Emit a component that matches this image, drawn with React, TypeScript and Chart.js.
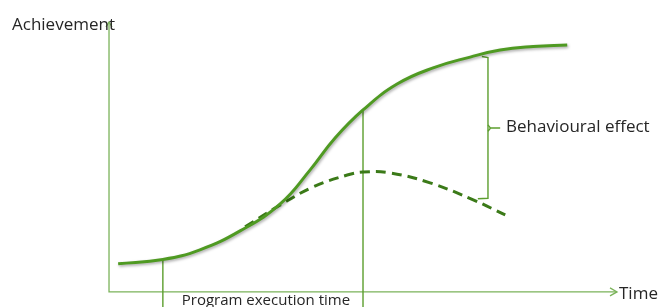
import React, { useEffect, useRef } from "react";
import { Chart, registerables } from "chart.js";

Chart.register(...registerables);

// Solid curve: achievement with behavioural effect
const solidX = [1.8, 10.6, 17.9, 25.8, 33.7, 39.6, 44.5, 50.0, 56.7, 63.8, 71.1, 77.0, 83.5, 90.2];
const solidY = [10.4, 12.0, 15.6, 22.6, 32.6, 45.2, 57.0, 67.4, 77.0, 83.0, 87.0, 89.6, 90.9, 91.5];
// Dashed curve: achievement without behavioural effect
const dashedX = [26.8, 33.7, 40.2, 46.9, 50.0, 55.3, 63.2, 71.7, 78.0];
const dashedY = [24.1, 32.2, 38.9, 43.3, 44.4, 44.1, 40.4, 34.1, 28.5];
// Program execution time markers (start, end)
const markerX = [10.6, 50.0];
const markerTopY = [12.0, 67.4];
// Behavioural effect bracket
const bracketX = 74.6;
const bracketTop = 86.8;
const bracketBottom = 34.4;
const bracketMid = 60.7;

const labels = {
  yTitle: "Achievement",
  xTitle: "Time",
  program: "Program execution time",
  effect: "Behavioural effect",
};

const AXIS = "#7bb35a";
const SOLID = "#4f9a22";
const DASH = "#3b7a18";
const THIN = "#5c9e2e";
const FONT = "'Open Sans', sans-serif";
const TEXT = "#262626";

export default function App() {
  const ref = useRef<HTMLCanvasElement | null>(null);
  useEffect(() => {
    if (!ref.current) return;
    const toPts = (xs: number[], ys: number[]) => xs.map((x, i) => ({ x, y: ys[i] }));
    const yBottom = -5.6;

    const decor = {
      id: "decor",
      beforeDatasetsDraw(chart: any) {
        const { ctx, scales } = chart;
        const xs = scales.x, ys = scales.y;
        const x0 = xs.getPixelForValue(0), y0 = ys.getPixelForValue(0);
        const x1 = xs.getPixelForValue(100), y1 = ys.getPixelForValue(100);
        ctx.save();
        ctx.strokeStyle = AXIS;
        ctx.lineWidth = 1.3;
        ctx.beginPath();
        ctx.moveTo(x0, y1);
        ctx.lineTo(x0, y0);
        ctx.lineTo(x1, y0);
        ctx.stroke();
        ctx.beginPath();
        ctx.moveTo(x1 - 7, y0 - 4);
        ctx.lineTo(x1, y0);
        ctx.lineTo(x1 - 7, y0 + 4);
        ctx.stroke();
        ctx.beginPath();
        ctx.moveTo(x0 - 3, y1 + 5);
        ctx.lineTo(x0, y1);
        ctx.lineTo(x0 + 3, y1 + 5);
        ctx.stroke();
        ctx.restore();
      },
      beforeDatasetDraw(chart: any, args: any) {
        if (args.index === 0) {
          const ctx = chart.ctx;
          ctx.save();
          ctx.shadowColor = "rgba(0,0,0,0.35)";
          ctx.shadowBlur = 3;
          ctx.shadowOffsetX = 1;
          ctx.shadowOffsetY = 1.5;
        }
      },
      afterDatasetDraw(chart: any, args: any) {
        if (args.index === 0) chart.ctx.restore();
      },
      afterDatasetsDraw(chart: any) {
        const { ctx, scales } = chart;
        const xs = scales.x, ys = scales.y;
        ctx.save();
        ctx.fillStyle = TEXT;
        ctx.font = `17px ${FONT}`;
        ctx.textBaseline = "middle";
        ctx.textAlign = "left";
        ctx.fillText(labels.yTitle, 12, ys.getPixelForValue(100) + 3);
        ctx.fillText(labels.xTitle, xs.getPixelForValue(100) + 2, ys.getPixelForValue(0) + 2);
        ctx.fillText(labels.effect, xs.getPixelForValue(bracketX) + 18, ys.getPixelForValue(bracketMid) - 1);
        ctx.font = `15px ${FONT}`;
        ctx.textAlign = "center";
        ctx.fillText(
          labels.program,
          (xs.getPixelForValue(markerX[0]) + xs.getPixelForValue(markerX[1])) / 2 + 3,
          ys.getPixelForValue(0) + 9
        );
        ctx.restore();
      },
    };

    const thin = (data: any[]) => ({
      data,
      showLine: true,
      borderColor: THIN,
      borderWidth: 1.4,
      pointRadius: 0,
      tension: 0,
      fill: false,
    });

    const chart = new Chart(ref.current, {
      type: "scatter",
      data: {
        datasets: [
          {
            data: toPts(solidX, solidY),
            showLine: true,
            borderColor: SOLID,
            borderWidth: 3,
            pointRadius: 0,
            tension: 0.45,
            fill: false,
          } as any,
          {
            data: toPts(dashedX, dashedY),
            showLine: true,
            borderColor: DASH,
            borderWidth: 3,
            borderDash: [10, 6],
            pointRadius: 0,
            tension: 0.4,
            fill: false,
          },
          thin([{ x: markerX[0], y: markerTopY[0] }, { x: markerX[0], y: yBottom }]),
          thin([{ x: markerX[1], y: markerTopY[1] }, { x: markerX[1], y: yBottom }]),
          thin([
            { x: bracketX - 1.2, y: bracketTop + 0.4 },
            { x: bracketX, y: bracketTop },
            { x: bracketX, y: bracketBottom + 0.3 },
            { x: bracketX - 2.0, y: bracketBottom + 0.1 },
          ]),
          thin([
            { x: bracketX, y: bracketMid + 1.2 },
            { x: bracketX + 0.5, y: bracketMid },
            { x: bracketX + 2.4, y: bracketMid },
          ]),
          thin([
            { x: bracketX, y: bracketMid - 1.2 },
            { x: bracketX + 0.5, y: bracketMid },
          ]),
        ],
      },
      options: {
        responsive: false,
        animation: false,
        layout: { padding: 0 },
        plugins: { legend: { display: false }, tooltip: { enabled: false } },
        scales: {
          x: { type: "linear", display: false, min: -21.46, max: 108.07 },
          y: { type: "linear", display: false, min: yBottom, max: 108.15 },
        },
      },
      plugins: [decor],
    });
    return () => chart.destroy();
  }, []);

  return (
    <div style={{ position: "fixed", left: 0, top: 0, width: 658, height: 307, background: "#fff" }}>
      <canvas ref={ref} width={658} height={307} />
    </div>
  );
}
